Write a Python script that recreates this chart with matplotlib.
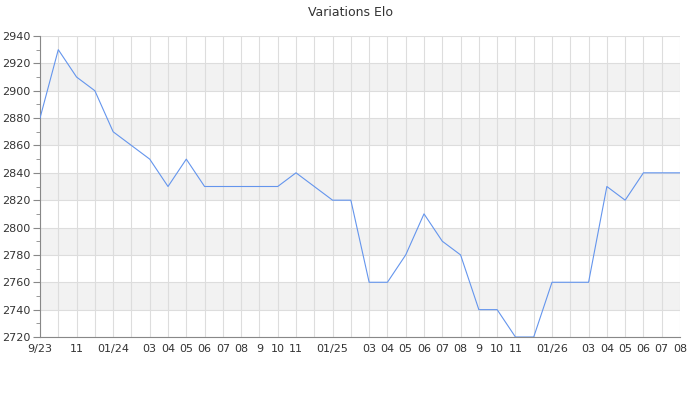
import matplotlib
matplotlib.use("Agg")
import matplotlib.pyplot as plt
from matplotlib.ticker import MultipleLocator

months = ["2023-09", "2023-10", "2023-11", "2023-12", "2024-01", "2024-02", "2024-03", "2024-04",
          "2024-05", "2024-06", "2024-07", "2024-08", "2024-09", "2024-10", "2024-11", "2024-12",
          "2025-01", "2025-02", "2025-03", "2025-04", "2025-05", "2025-06", "2025-07", "2025-08",
          "2025-09", "2025-10", "2025-11", "2025-12", "2026-01", "2026-02", "2026-03", "2026-04",
          "2026-05", "2026-06", "2026-07", "2026-08"]
elo = [2880, 2930, 2910, 2900, 2870, 2860, 2850, 2830,
       2850, 2830, 2830, 2830, 2830, 2830, 2840, 2830,
       2820, 2820, 2760, 2760, 2780, 2810, 2790, 2780,
       2740, 2740, 2720, 2720, 2760, 2760, 2760, 2830,
       2820, 2840, 2840, 2840]
tick_labels = ["9/23", "", "11", "", "01/24", "", "03", "04",
               "05", "06", "07", "08", "9", "10", "11", "",
               "01/25", "", "03", "04", "05", "06", "07", "08",
               "9", "10", "11", "", "01/26", "", "03", "04",
               "05", "06", "07", "08"]
y_min, y_max = 2720, 2940

fig = plt.figure(figsize=(7, 4), dpi=100)
ax = fig.add_axes([40/700, 1 - 337/400, 640/700, (337 - 36)/400])

x = list(range(len(months)))
ax.set_xlim(0, len(months) - 1)
ax.set_ylim(y_min, y_max)

# alternating bands
for i, lo in enumerate(range(y_min, y_max, 20)):
    if i % 2 == 1:
        ax.axhspan(lo, lo + 20, color="#f2f2f2", zorder=0, lw=0)

ax.set_xticks(x)
ax.set_xticklabels(tick_labels)
ax.yaxis.set_major_locator(MultipleLocator(20))
ax.yaxis.set_minor_locator(MultipleLocator(10))
ax.grid(True, which="major", color="#dddddd", lw=0.8, zorder=1)
ax.set_axisbelow(True)

ax.plot(x, elo, color="#6495ed", lw=0.8, zorder=3)

for s in ["top", "right"]:
    ax.spines[s].set_visible(False)
for s in ["left", "bottom"]:
    ax.spines[s].set_color("#888888")
    ax.spines[s].set_linewidth(0.8)

ax.tick_params(axis="y", which="major", length=5, color="#888888", labelsize=8, labelcolor="#333333", pad=2)
ax.tick_params(axis="y", which="minor", length=3, color="#888888")
ax.tick_params(axis="x", length=0, labelsize=8, labelcolor="#333333", pad=5)

fig.text(0.5, 1 - 12/400, "Variations Elo", ha="center", va="center", fontsize=9, color="#333333")

fig.savefig("out.png", dpi=100)
